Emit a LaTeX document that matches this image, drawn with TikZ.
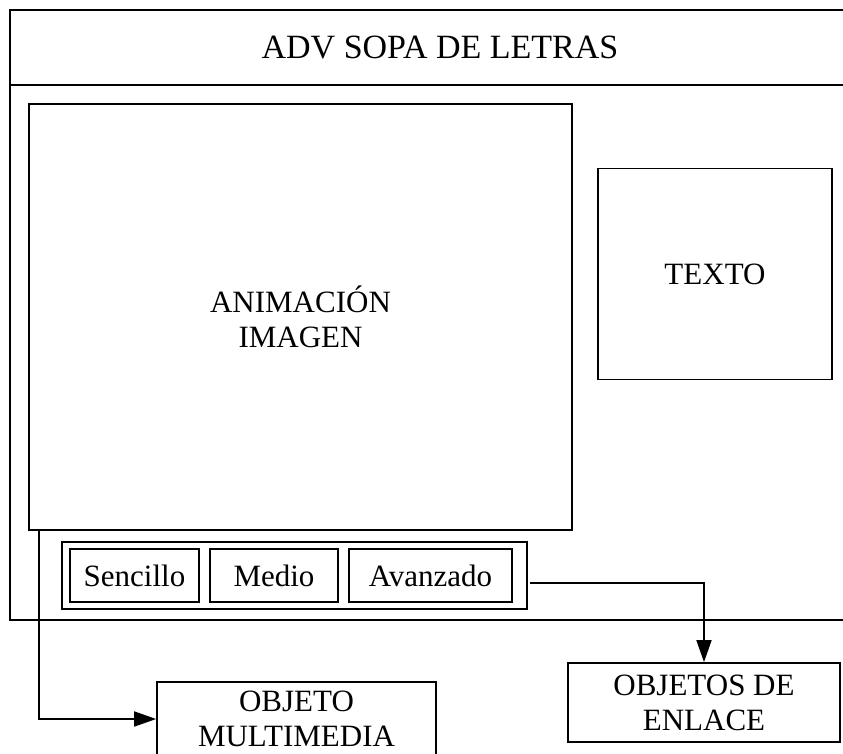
\documentclass[tikz,border=0pt]{standalone}
\usepackage{fontspec}
\setmainfont{Liberation Serif}
\usetikzlibrary{arrows.meta}
\begin{document}
\begin{tikzpicture}[x=1pt,y=-1pt,
  txt/.style={font=\fontsize{31}{35}\selectfont},
  box/.style={draw,line width=1.7pt,rectangle,inner sep=0pt,txt,align=center},
  frame/.style={draw,line width=2.2pt,rectangle,inner sep=0pt,txt,align=center},
  conn/.style={line width=1.7pt,-{Triangle[length=22pt,width=15pt]}}]
\useasboundingbox (0,0) rectangle (843,754);
\clip (0,0) rectangle (843,754);
% main frame
\node[frame,minimum width=860pt,minimum height=75pt,font=\fontsize{34}{38}\selectfont] (head) at (440,47.5) {ADV SOPA DE LETRAS};
\node[frame,minimum width=860pt,minimum height=535pt] (body) at (440,352.5) {};
% content boxes
\node[box,minimum width=543pt,minimum height=426pt] (anim) at (300.5,317) {ANIMACIÓN\\IMAGEN};
\node[box,minimum width=234pt,minimum height=211pt] (texto) at (715,274) {TEXTO};
% button group
\node[box,minimum width=465pt,minimum height=67pt] (grp) at (294.5,575.5) {};
\node[box,minimum width=129pt,minimum height=53pt] (sen) at (134.5,575.5) {Sencillo};
\node[box,minimum width=128pt,minimum height=53pt] (med) at (274,575.5) {Medio};
\node[box,minimum width=163pt,minimum height=53pt] (ava) at (430.5,575.5) {Avanzado};
% targets
\node[box,minimum width=279pt,minimum height=74pt] (mm) at (296.5,719) {OBJETO\\MULTIMEDIA};
\node[box,minimum width=272pt,minimum height=79pt] (enl) at (704,702.5) {OBJETOS DE\\ENLACE};
% connectors
\coordinate (c1) at ([xshift=11pt]anim.south west);
\coordinate (c2) at (530,583);
\draw[conn] (c1) |- (mm.west);
\draw[conn] (c2) -| (enl.north);
\end{tikzpicture}
\end{document}
